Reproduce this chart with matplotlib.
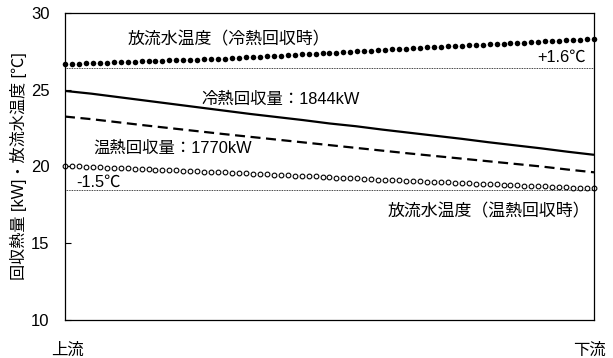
import numpy as np
import matplotlib
matplotlib.use("Agg")
import matplotlib.pyplot as plt

plt.rcParams['font.family'] = ['Liberation Sans', 'Noto Sans CJK JP', 'DejaVu Sans']

# discharge water temperature, cold heat recovery (filled dots)
temp_cold = [26.66, 26.68, 26.70, 26.71, 26.73, 26.74, 26.76, 26.77, 26.79, 26.80,
             26.82, 26.84, 26.85, 26.87, 26.88, 26.90, 26.91, 26.93, 26.95, 26.96,
             26.98, 26.99, 27.01, 27.03, 27.05,
             27.07, 27.10, 27.12, 27.15, 27.17, 27.20, 27.22, 27.25, 27.27, 27.30,
             27.32, 27.35, 27.37, 27.40, 27.42, 27.45, 27.47, 27.50, 27.52, 27.55,
             27.57, 27.60, 27.62, 27.65, 27.67, 27.70,
             27.72, 27.75, 27.77, 27.79, 27.82, 27.84, 27.86, 27.89, 27.91, 27.93,
             27.96, 27.98, 28.00, 28.03, 28.05, 28.07, 28.10, 28.12, 28.14, 28.16,
             28.19, 28.21, 28.23, 28.25, 28.27, 28.30]

# discharge water temperature, warm heat recovery (open circles)
temp_warm = [20.03, 20.01, 20.00, 19.98, 19.96, 19.94, 19.92, 19.91, 19.89, 19.87,
             19.85, 19.83, 19.82, 19.80, 19.78, 19.76, 19.74, 19.73, 19.71, 19.69,
             19.67, 19.66, 19.64, 19.62, 19.60,
             19.58, 19.56, 19.54, 19.52, 19.49, 19.47, 19.45, 19.43, 19.41, 19.39,
             19.37, 19.35, 19.32, 19.30, 19.28, 19.26, 19.24, 19.22, 19.20, 19.18,
             19.15, 19.13, 19.11, 19.09, 19.07, 19.05,
             19.03, 19.01, 18.99, 18.98, 18.96, 18.94, 18.92, 18.90, 18.88, 18.87,
             18.85, 18.83, 18.81, 18.79, 18.78, 18.76, 18.74, 18.72, 18.70, 18.69,
             18.67, 18.65, 18.63, 18.62, 18.60, 18.58]

# recovered heat along the channel
heat_cold = [24.92, 24.74, 24.52, 24.30, 24.08, 23.86, 23.64, 23.42, 23.22, 23.02, 22.80,
             22.62, 22.40, 22.20, 22.00, 21.80, 21.58, 21.38, 21.18, 20.96, 20.76]
heat_warm = [23.25, 23.08, 22.88, 22.68, 22.49, 22.30, 22.11, 21.93, 21.75, 21.57, 21.39,
             21.21, 21.03, 20.85, 20.68, 20.51, 20.34, 20.17, 20.00, 19.80, 19.62]

ref_cold = 26.4
ref_warm = 18.5

y_ticks = [10, 15, 20, 25, 30]

fig = plt.figure(figsize=(6.13, 3.58), dpi=100)
ax = fig.add_axes([0.106, 0.106, 0.863, 0.858])

x_dots = np.linspace(0, 1, len(temp_cold))
x_line = np.linspace(0, 1, len(heat_cold))

ax.axhline(ref_cold, color='black', lw=0.6, ls=(0, (1, 1)))
ax.axhline(ref_warm, color='black', lw=0.6, ls=(0, (1, 1)))

ax.plot(x_line, heat_cold, color='black', lw=1.6, solid_capstyle='butt')
ax.plot(x_line, heat_warm, color='black', lw=1.6, dashes=(4.5, 2.5))
ax.plot(x_dots, temp_cold, 'o', color='black', ms=4.0, mew=0, clip_on=False)
ax.plot(x_dots, temp_warm, 'o', mfc='white', mec='black', ms=3.4, mew=0.8, clip_on=False)

ax.set_xlim(0, 1)
ax.set_ylim(10, 30)
ax.set_yticks(y_ticks)
ax.set_xticks([])
ax.tick_params(axis='y', direction='in', length=4, width=0.8, labelsize=12, pad=11)
for s in ax.spines.values():
    s.set_linewidth(0.9)

ax.set_ylabel('回収熱量 [kW]・放流水温度 [℃]', fontsize=11.6, labelpad=3)

fs = 11.8
ax.text(0.31, 28.25, '放流水温度（冷熱回収時）', fontsize=12.2, ha='center', va='center')
ax.text(0.408, 24.35, '冷熱回収量：1844kW', fontsize=fs, ha='center', va='center')
ax.text(0.203, 21.2, '温熱回収量：1770kW', fontsize=fs, ha='center', va='center')
ax.text(0.985, 27.1, '+1.6℃', fontsize=fs, ha='right', va='center')
ax.text(0.021, 18.95, '-1.5℃', fontsize=fs, ha='left', va='center')
ax.text(0.992, 17.05, '放流水温度（温熱回収時）', fontsize=12.2, ha='right', va='center')

fig.text(67 / 613, 1 - 350 / 358, '上流', fontsize=fs, ha='center', va='center')
fig.text(589 / 613, 1 - 350 / 358, '下流', fontsize=fs, ha='center', va='center')

fig.savefig('out.png', dpi=100)
